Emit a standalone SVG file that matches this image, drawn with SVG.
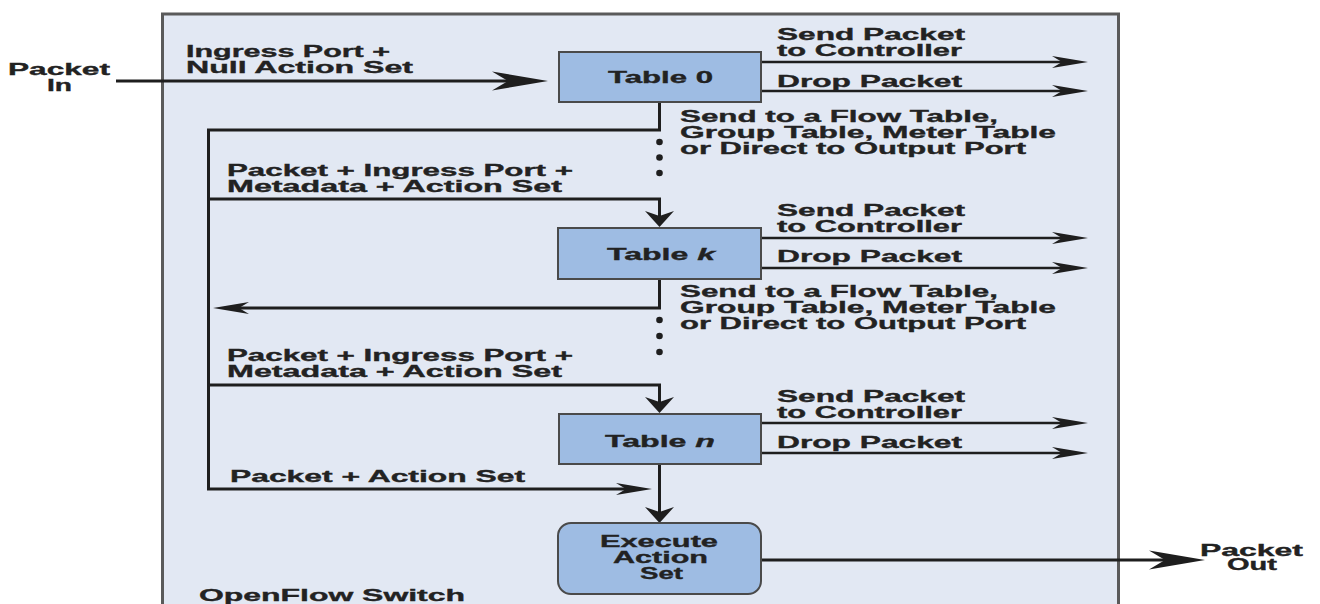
<svg xmlns="http://www.w3.org/2000/svg" width="1320" height="604" viewBox="0 0 1320 604">
  <defs>
    <style>
      .lbl { font-family: "Liberation Sans", Arial, sans-serif; font-weight: bold; font-size: 16.5px; fill: #222; stroke: #222; stroke-width: 0.35px; }
      .tbl { fill: #9ebce3; stroke: #4a4a4a; stroke-width: 2; }
      .flow { fill: none; stroke: #1e1e1e; stroke-width: 3; }
      .out { fill: none; stroke: #1e1e1e; stroke-width: 2.4; }
      .dot { fill: #1e1e1e; }
      .head { fill: #1e1e1e; }
    </style>
    <!-- notched dart heads; refX sits at the notch so the line ends hidden inside the head -->
    <marker id="bigHead" markerUnits="userSpaceOnUse" markerWidth="56" markerHeight="19" refX="16" refY="9.5" orient="auto" overflow="visible">
      <path class="head" d="M0,0 L56,9.5 L0,19 L16,9.5 Z"/>
    </marker>
    <marker id="sideHead" markerUnits="userSpaceOnUse" markerWidth="36" markerHeight="12" refX="10" refY="6" orient="auto" overflow="visible">
      <path class="head" d="M0,0 L36,6 L0,12 L10,6 Z"/>
    </marker>
    <marker id="downHead" markerUnits="userSpaceOnUse" markerWidth="16" markerHeight="29" refX="5" refY="14.5" orient="auto" overflow="visible">
      <path class="head" d="M0,0 L16,14.5 L0,29 L5,14.5 Z"/>
    </marker>
  </defs>

  <!-- switch enclosure -->
  <g id="switch">
    <rect x="162.5" y="14" width="956" height="640" fill="#e2e8f3" stroke="#5a5a5a" stroke-width="3"/>
    <text class="lbl" x="199" y="601" textLength="266" lengthAdjust="spacingAndGlyphs">OpenFlow Switch</text>
  </g>

  <!-- connectors -->
  <g id="connectors">
    <!-- packet in -->
    <path class="flow" d="M116,81 H508" marker-end="url(#bigHead)"/>
    <!-- table 0 outputs -->
    <path class="out" d="M761,62 H1062" marker-end="url(#sideHead)"/>
    <path class="out" d="M761,91 H1062" marker-end="url(#sideHead)"/>
    <!-- table 0 loop back and the final action-set path -->
    <path class="flow" d="M659.5,102 V130 H208.5 V489 H626" marker-end="url(#sideHead)"/>
    <!-- into table k -->
    <path class="flow" d="M208.5,199 H659.5 V216" marker-end="url(#downHead)"/>
    <!-- table k outputs -->
    <path class="out" d="M761,238 H1062" marker-end="url(#sideHead)"/>
    <path class="out" d="M761,268 H1062" marker-end="url(#sideHead)"/>
    <path class="flow" d="M659.5,279 V308 H239" marker-end="url(#sideHead)"/>
    <!-- into table n -->
    <path class="flow" d="M208.5,385 H659.5 V402" marker-end="url(#downHead)"/>
    <!-- table n outputs -->
    <path class="out" d="M761,423 H1062" marker-end="url(#sideHead)"/>
    <path class="out" d="M761,453 H1062" marker-end="url(#sideHead)"/>
    <path class="flow" d="M659.5,464 V512" marker-end="url(#downHead)"/>
    <!-- packet out -->
    <path class="flow" d="M761,560 H1165" marker-end="url(#bigHead)"/>
    <!-- ellipsis dots -->
    <circle class="dot" cx="659.5" cy="142" r="3.3"/>
    <circle class="dot" cx="659.5" cy="157.5" r="3.3"/>
    <circle class="dot" cx="659.5" cy="173" r="3.3"/>
    <circle class="dot" cx="659.5" cy="320" r="3.3"/>
    <circle class="dot" cx="659.5" cy="336" r="3.3"/>
    <circle class="dot" cx="659.5" cy="352" r="3.3"/>
  </g>

  <!-- edge labels -->
  <g id="labels">
    <text class="lbl" x="8" y="75" textLength="102" lengthAdjust="spacingAndGlyphs">Packet</text>
    <text class="lbl" x="47" y="91" textLength="25" lengthAdjust="spacingAndGlyphs">In</text>
    <text class="lbl" x="186" y="57" textLength="204" lengthAdjust="spacingAndGlyphs">Ingress Port +</text>
    <text class="lbl" x="186" y="73" textLength="227" lengthAdjust="spacingAndGlyphs">Null Action Set</text>

    <text class="lbl" x="777" y="40" textLength="188" lengthAdjust="spacingAndGlyphs">Send Packet</text>
    <text class="lbl" x="777" y="56" textLength="185" lengthAdjust="spacingAndGlyphs">to Controller</text>
    <text class="lbl" x="777" y="87" textLength="185" lengthAdjust="spacingAndGlyphs">Drop Packet</text>
    <text class="lbl" x="680" y="122" textLength="318" lengthAdjust="spacingAndGlyphs">Send to a Flow Table,</text>
    <text class="lbl" x="680" y="138" textLength="376" lengthAdjust="spacingAndGlyphs">Group Table, Meter Table</text>
    <text class="lbl" x="680" y="154" textLength="346" lengthAdjust="spacingAndGlyphs">or Direct to Output Port</text>

    <text class="lbl" x="227" y="176" textLength="346" lengthAdjust="spacingAndGlyphs">Packet + Ingress Port +</text>
    <text class="lbl" x="227" y="192" textLength="335" lengthAdjust="spacingAndGlyphs">Metadata + Action Set</text>

    <text class="lbl" x="777" y="216" textLength="188" lengthAdjust="spacingAndGlyphs">Send Packet</text>
    <text class="lbl" x="777" y="232" textLength="185" lengthAdjust="spacingAndGlyphs">to Controller</text>
    <text class="lbl" x="777" y="262" textLength="185" lengthAdjust="spacingAndGlyphs">Drop Packet</text>
    <text class="lbl" x="680" y="297" textLength="318" lengthAdjust="spacingAndGlyphs">Send to a Flow Table,</text>
    <text class="lbl" x="680" y="313" textLength="376" lengthAdjust="spacingAndGlyphs">Group Table, Meter Table</text>
    <text class="lbl" x="680" y="329" textLength="346" lengthAdjust="spacingAndGlyphs">or Direct to Output Port</text>

    <text class="lbl" x="227" y="361" textLength="346" lengthAdjust="spacingAndGlyphs">Packet + Ingress Port +</text>
    <text class="lbl" x="227" y="377" textLength="335" lengthAdjust="spacingAndGlyphs">Metadata + Action Set</text>

    <text class="lbl" x="777" y="402" textLength="188" lengthAdjust="spacingAndGlyphs">Send Packet</text>
    <text class="lbl" x="777" y="418" textLength="185" lengthAdjust="spacingAndGlyphs">to Controller</text>
    <text class="lbl" x="777" y="448" textLength="185" lengthAdjust="spacingAndGlyphs">Drop Packet</text>

    <text class="lbl" x="230" y="482" textLength="295" lengthAdjust="spacingAndGlyphs">Packet + Action Set</text>

    <text class="lbl" x="1200" y="556" textLength="103" lengthAdjust="spacingAndGlyphs">Packet</text>
    <text class="lbl" x="1227" y="570" textLength="50" lengthAdjust="spacingAndGlyphs">Out</text>
  </g>

  <!-- flow tables -->
  <g id="table0">
    <rect class="tbl" x="559" y="52" width="202" height="50"/>
    <text class="lbl" x="608" y="83" textLength="105" lengthAdjust="spacingAndGlyphs">Table 0</text>
  </g>
  <g id="tableK">
    <rect class="tbl" x="558" y="228" width="203" height="51"/>
    <text class="lbl" x="607" y="260" textLength="108" lengthAdjust="spacingAndGlyphs">Table <tspan font-style="italic">k</tspan></text>
  </g>
  <g id="tableN">
    <rect class="tbl" x="559" y="414" width="202" height="50"/>
    <text class="lbl" x="605" y="447" textLength="110" lengthAdjust="spacingAndGlyphs">Table <tspan font-style="italic">n</tspan></text>
  </g>
  <g id="executeActionSet">
    <rect class="tbl" x="558" y="523" width="203" height="71" rx="13" ry="13"/>
    <text class="lbl" x="600" y="547" textLength="118" lengthAdjust="spacingAndGlyphs">Execute</text>
    <text class="lbl" x="613" y="563" textLength="95" lengthAdjust="spacingAndGlyphs">Action</text>
    <text class="lbl" x="640" y="579" textLength="43" lengthAdjust="spacingAndGlyphs">Set</text>
  </g>
</svg>
